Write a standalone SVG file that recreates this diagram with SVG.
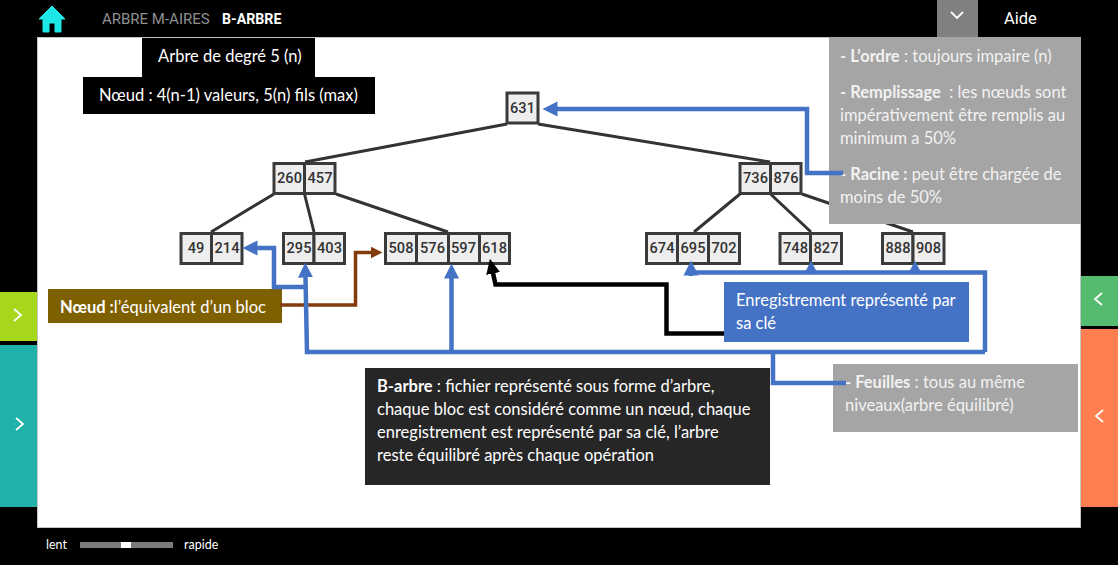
<svg xmlns="http://www.w3.org/2000/svg" width="1118" height="565" viewBox="0 0 1118 565">
<style>
.cell{fill:#eeeeee;stroke:#3a3a3a;stroke-width:3}
.num{font:500 14.6px Roboto,sans-serif;fill:#333;text-anchor:middle}
.edge{fill:none;stroke:#333;stroke-width:3}
.b{fill:none;stroke:#4472c4;stroke-width:4.500}
.t{font:16.5px Lato,"Noto Sans",sans-serif;fill:#fff;transform:translateY(.6px)}
.bold{font-weight:700}
.g{fill:#f2f2f2}
.chev{fill:none;stroke:#fff;stroke-width:1.800}
</style>
<defs>
<marker id="mb" markerUnits="userSpaceOnUse" markerWidth="16" markerHeight="16" refX="0.5" refY="8" orient="auto"><path d="M0 0.5L15 8L0 15.5Z" fill="#4472c4"/></marker>
<marker id="ms" markerUnits="userSpaceOnUse" markerWidth="14" markerHeight="14" refX="0.5" refY="7" orient="auto"><path d="M0 1L12 7L0 13Z" fill="#4472c4"/></marker>
<marker id="mr" markerUnits="userSpaceOnUse" markerWidth="14" markerHeight="14" refX="0.5" refY="7" orient="auto"><path d="M0 1L12 7L0 13Z" fill="#843c0c"/></marker>
<marker id="mk" markerUnits="userSpaceOnUse" markerWidth="16" markerHeight="16" refX="0.5" refY="8" orient="auto"><path d="M0 1L15 8L0 15Z" fill="#000"/></marker>
</defs>
<rect width="1118" height="565" fill="#000"/>
<rect id="stage" x="37.500" y="37.500" width="1043" height="490" fill="#fff" stroke="#c4c4c4"/>
<g id="header">
<path d="M52 6L65 19H61V32H55V23H49V32H43V19H39Z" fill="#1ce6e6" stroke="#1ce6e6" stroke-linejoin="round"/>
<text x="102" y="24" font-family="Roboto,sans-serif" font-size="15" fill="#8f8f8f">ARBRE M-AIRES</text>
<text x="222" y="24" font-family="Roboto,sans-serif" font-size="14.200" font-weight="700" fill="#fff">B-ARBRE</text>
<rect x="937" y="0" width="41" height="37" fill="#808080"/>
<path class="chev" d="M951 12L957 18L963 12"/>
<text x="1004" y="24" font-family="Roboto,sans-serif" font-size="16.500" fill="#fff">Aide</text>
</g>
<g id="side-tabs">
<rect x="0" y="292" width="37" height="49" fill="#a6d71c"/><path class="chev" d="M14 309L21 315L14 321"/>
<rect x="0" y="345" width="37" height="162" fill="#20b2aa"/><path class="chev" d="M16 418L23 424L16 430"/>
<rect x="1081" y="276" width="37" height="50" fill="#55bb6f"/><path class="chev" d="M1102 293L1095 299L1102 305"/>
<rect x="1081" y="329" width="37" height="178" fill="#ff7f50"/><path class="chev" d="M1103 410L1096 416L1103 422"/>
</g>
<g id="speed">
<text x="46" y="549" font-family="Lato,sans-serif" font-size="12.500" fill="#fff">lent</text>
<rect x="80" y="542" width="93" height="6" fill="#7f7b7b"/><rect x="121" y="542" width="10" height="6" fill="#fff"/>
<text x="184" y="549" font-family="Lato,sans-serif" font-size="12.500" fill="#fff">rapide</text>
</g>
<g id="tree-edges">
<path class="edge" d="M507 124L305 162M538 124L770 162M274 194L211 232M304.500 194L314 232M336 194L448 232M740 194L694 232M770.500 194L811 232M802 194L913 232"/>
</g>
<g id="n631"><rect class="cell" x="507" y="93" width="31" height="30"/><text class="num" x="522.500" y="113">631</text></g>
<g id="n260-457"><rect class="cell" x="274" y="163.500" width="30.500" height="30"/><rect class="cell" x="304.500" y="163.500" width="30.500" height="30"/><text class="num" x="289.500" y="183">260</text><text class="num" x="320" y="183">457</text></g>
<g id="n736-876"><rect class="cell" x="740" y="163.500" width="30.500" height="30"/><rect class="cell" x="770.500" y="163.500" width="30.500" height="30"/><text class="num" x="755.500" y="182.500">736</text><text class="num" x="786" y="182.500">876</text></g>
<g id="n49-214"><rect class="cell" x="181" y="233.500" width="30.500" height="30"/><rect class="cell" x="211.500" y="233.500" width="30.500" height="30"/><text class="num" x="196" y="253">49</text><text class="num" x="227" y="253">214</text></g>
<g id="n295-403"><rect class="cell" x="283.500" y="233.500" width="30.500" height="30"/><rect class="cell" x="314" y="233.500" width="30.500" height="30"/><text class="num" x="299" y="253">295</text><text class="num" x="329.500" y="253">403</text></g>
<g id="n508-618"><rect class="cell" x="385.500" y="233.500" width="31" height="30"/><rect class="cell" x="416.500" y="233.500" width="32" height="30"/><rect class="cell" x="448.500" y="233.500" width="31" height="30"/><rect class="cell" x="479.500" y="233.500" width="30" height="30"/><text class="num" x="401" y="253">508</text><text class="num" x="432.500" y="253">576</text><text class="num" x="463.500" y="253">597</text><text class="num" x="494.500" y="253">618</text></g>
<g id="n674-702"><rect class="cell" x="646.500" y="233.500" width="31" height="30"/><rect class="cell" x="677.500" y="233.500" width="31" height="30"/><rect class="cell" x="708.500" y="233.500" width="31" height="30"/><text class="num" x="662" y="253">674</text><text class="num" x="693" y="253">695</text><text class="num" x="724" y="253">702</text></g>
<g id="n748-827"><rect class="cell" x="780" y="233.500" width="30.500" height="30"/><rect class="cell" x="810.500" y="233.500" width="31" height="30"/><text class="num" x="795.500" y="253">748</text><text class="num" x="826" y="253">827</text></g>
<g id="n888-908"><rect class="cell" x="882.500" y="233.500" width="30.500" height="30"/><rect class="cell" x="913" y="233.500" width="31" height="30"/><text class="num" x="898" y="253">888</text><text class="num" x="928.500" y="253">908</text></g>
<g id="note-degre"><rect x="142" y="38" width="173" height="39" fill="#000"/><text class="t" x="158" y="61">Arbre de degré 5 (n)</text></g>
<g id="note-noeud-max"><rect x="83" y="77" width="292" height="37" fill="#000"/><text class="t" x="99" y="100">Nœud : 4(n-1) valeurs, 5(n) fils (max)</text></g>
<g id="note-regles"><rect x="829" y="37" width="252" height="187" fill="#a5a5a5"/>
<text class="t g" x="840" y="61"><tspan class="bold">- L’ordre</tspan> : toujours impaire (n)</text>
<text class="t g" x="840" y="97" xml:space="preserve"><tspan class="bold">- Remplissage</tspan>  : les nœuds sont</text>
<text class="t g" x="840" y="120">impérativement être remplis au</text>
<text class="t g" x="840" y="143">minimum a 50%</text>
<text class="t g" x="840" y="179"><tspan class="bold">- Racine :</tspan> peut être chargée de</text>
<text class="t g" x="840" y="202">moins de 50%</text></g>
<g id="note-bloc"><rect x="48" y="289" width="234" height="34" fill="#7f6000"/><text class="t" x="60" y="312"><tspan class="bold">Nœud :</tspan>l’équivalent d’un bloc</text></g>
<g id="note-cle"><rect x="724" y="282" width="245" height="60" fill="#4472c4"/><text class="t" x="736" y="305">Enregistrement représenté par</text><text class="t" x="736" y="328">sa clé</text></g>
<g id="note-barbre"><rect x="365" y="368" width="405" height="117" fill="#262626"/>
<text class="t" x="377" y="391"><tspan class="bold">B-arbre</tspan> : fichier représenté sous forme d’arbre,</text>
<text class="t" x="377" y="414">chaque bloc est considéré comme un nœud, chaque</text>
<text class="t" x="377" y="437">enregistrement est représenté par sa clé, l’arbre</text>
<text class="t" x="377" y="460">reste équilibré après chaque opération</text></g>
<g id="note-feuilles"><rect x="833" y="364" width="245" height="68" fill="#a5a5a5"/>
<text class="t g" x="845" y="387"><tspan class="bold">- Feuilles</tspan> : tous au même</text>
<text class="t g" x="845" y="410">niveaux(arbre équilibré)</text></g>
<g id="connectors">
<path class="b" marker-end="url(#mb)" d="M843 173H807V109H557"/>
<path d="M280 305H355.500V252.500H371" fill="none" stroke="#843c0c" stroke-width="3.500" marker-end="url(#mr)"/>
<path class="b" marker-end="url(#mb)" d="M306 287H274V248H257"/>
<path class="b" marker-end="url(#mb)" d="M985 352H307L305.500 277"/>
<path class="b" marker-end="url(#mb)" d="M451.500 352V278"/>
<path class="b" d="M985 352V272.500H690"/>
<path class="b" marker-end="url(#mb)" d="M691 276V275"/>
<path class="b" marker-end="url(#ms)" d="M811 273V272"/>
<path class="b" marker-end="url(#ms)" d="M915 273V272"/>
<path class="b" d="M773 352V383H846"/>
<path d="M724 333.500H666.500V284.500H495.500L493 273" fill="none" stroke="#000" stroke-width="4.500" marker-end="url(#mk)"/>
</g>
</svg>
